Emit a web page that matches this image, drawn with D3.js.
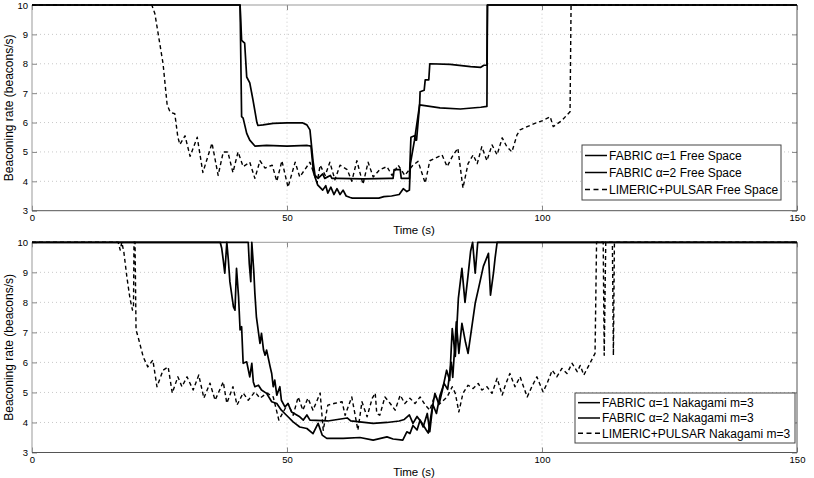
<!DOCTYPE html>
<html>
<head>
<meta charset="utf-8">
<script src="https://cdn.jsdelivr.net/npm/d3@7.9.0/dist/d3.min.js"></script>
<style>
  body { margin: 0; background: #fff; }
  text { font-family: "Liberation Sans", Arial, Helvetica, sans-serif; fill: #000; }
</style>
</head>
<body>
<svg id="chart" width="814" height="478"></svg>
<script>
// ---- data: [time (s), beaconing rate (beacons/s)] ----
const xTicks = [0, 50, 100, 150];
const yTicks = [3, 4, 5, 6, 7, 8, 9, 10];

const fabric1Free = [[0,10],[40.8,10],[41.1,8.8],[41.7,8.7],[42.1,7.55],[42.7,7.35],[43.3,6.8],[44.1,6.0],[44.3,5.9],
  [45.3,5.92],[47.3,5.97],[50,5.99],[53,5.99],[53.9,5.92],[54.5,5.75],[55.1,4.7],[55.5,4.2],[56.1,4.1],[57,4.25],[57.4,4.1],
  [58.5,4.2],[58.8,4.1],[60,4.1],[65,4.08],[70,4.1],[70.8,4.1],[71.0,4.4],[72.2,4.4],[72.4,4.1],[74.0,4.1],[74.3,5.5],
  [75.0,5.55],[75.2,5.4],[75.4,5.4],[76.0,6.6],[76.1,7.05],[76.9,7.1],[77.1,7.45],[77.8,7.45],[78.0,8.0],[82,7.98],
  [86,7.9],[88,7.88],[88.6,7.95],[89.2,7.95],[89.3,10],[150,10]];

const fabric2Free = [[0,10],[40.8,10],[41.1,6.2],[41.4,6.15],[42.1,5.63],[42.7,5.4],[43.7,5.2],[46,5.22],[50,5.2],[54,5.22],
  [54.7,5.2],[55.2,4.3],[56.0,3.88],[57.0,3.7],[57.6,3.85],[58.0,3.6],[58.6,3.8],[59.2,3.55],[59.8,3.75],[60.4,3.55],
  [61.0,3.7],[61.6,3.5],[62.4,3.45],[62.8,3.43],[68,3.43],[69,3.48],[70.5,3.5],[72,3.55],[72.8,3.75],[73.5,3.65],
  [74.0,3.7],[74.2,4.6],[75.0,5.4],[76.0,6.6],[80,6.5],[84,6.46],[88,6.52],[89.2,6.55],[89.3,10],[150,10]];

const limericFree = [[0,10],[23.5,10],[23.9,9.8],[24.1,9.7],[25.7,8.0],[26.5,6.6],[27.1,6.35],[28.0,6.3],[28.6,5.5],
  [29.0,5.25],[30.0,5.55],[31.0,4.85],[32.4,5.5],[33.5,4.3],[35.3,5.3],[36.5,4.2],[37.5,5.0],[38.4,5.0],[39.4,4.3],
  [40.4,5.0],[41.4,4.5],[42.7,4.65],[43.7,4.1],[44.7,4.7],[45.7,4.45],[47.1,4.55],[48.0,4.0],[49.0,4.7],[50.2,3.8],
  [51.6,4.65],[52.5,4.15],[54.5,4.65],[55.9,3.95],[56.5,4.55],[57.5,4.2],[58.4,4.65],[59.4,4.05],[60.4,4.55],[61.8,4.4],
  [62.7,4.0],[63.7,4.7],[64.9,3.9],[65.9,4.65],[66.9,4.15],[68.2,4.4],[69.6,4.5],[70.6,4.2],[71.8,4.55],[73.1,4.2],
  [74.7,4.55],[75.7,4.68],[77.1,3.94],[78.0,4.7],[79.0,4.78],[80.4,4.9],[81.4,4.5],[82.4,4.84],[83.5,5.13],[84.5,3.77],
  [85.5,4.6],[86.5,4.9],[87.3,4.6],[88.2,5.18],[89.2,4.7],[90.2,5.24],[91.2,4.9],[92.2,5.48],[93.1,5.18],[94.1,5.0],
  [95.1,5.58],[95.7,5.75],[97.1,5.86],[98.6,5.97],[100.2,6.07],[101.6,6.2],[102.2,5.86],[103.9,6.07],[105.5,6.37],
  [105.7,10],[150,10]];

const fabric1Naka = [[0,10],[42.4,10],[42.6,9.3],[42.9,8.69],[43.1,10],[43.5,9.0],[43.7,8.3],[44.0,7.52],[44.7,6.63],
  [45.0,6.97],[45.4,6.41],[45.7,6.24],[46.0,6.41],[46.7,5.85],[47.0,5.63],[47.3,5.19],[47.6,5.41],[48.0,4.91],[48.6,5.19],
  [48.9,4.74],[49.6,4.52],[50.2,4.63],[50.9,4.35],[52.5,4.19],[53.2,4.08],[53.9,4.25],[54.5,4.08],[58,4.05],[61.8,4.15],
  [62.5,4.05],[66.9,3.97],[69.6,4.0],[72.0,4.05],[73.0,4.1],[74.0,4.25],[74.7,3.97],[75.5,4.2],[76.5,3.97],[77.3,3.75],
  [77.7,3.65],[78.4,4.4],[79.0,4.97],[79.8,4.6],[80.5,5.1],[81.3,5.74],[81.9,5.4],[82.4,7.13],[83.0,6.2],[83.6,8.13],
  [84.3,9.13],[84.9,8.0],[85.5,8.9],[86.0,9.7],[86.4,10],[86.9,8.97],[87.4,10],[150,10]];

const fabric2Naka = [[0,10],[36.9,10],[37.2,9.8],[37.5,9.41],[37.8,8.97],[38.2,10],[38.5,9.41],[38.8,8.69],[39.5,7.85],
  [39.8,7.74],[40.1,9.13],[40.5,8.19],[40.8,7.08],[41.1,7.19],[41.4,5.97],[42.1,6.02],[42.7,5.52],[43.1,5.97],[43.4,5.35],
  [43.7,5.19],[44.4,5.24],[45.0,5.08],[46.0,4.97],[47.0,4.69],[48.0,4.63],[48.9,4.41],[49.9,4.24],[51.2,4.02],[52.5,3.85],
  [53.9,3.8],[55.1,3.63],[56.1,3.97],[56.9,3.58],[57.8,3.47],[61.0,3.47],[64.3,3.5],[66.9,3.41],[69.6,3.52],[70.8,3.45],
  [72.7,3.41],[73.5,3.69],[74.1,3.63],[74.7,3.9],[75.5,3.75],[76.1,4.08],[76.7,3.85],[77.5,4.3],[78.0,3.69],[78.6,4.6],
  [79.3,4.3],[80.0,4.9],[80.8,5.3],[81.5,5.1],[82.2,6.0],[82.5,5.5],[83.2,7.35],[83.7,6.3],[84.3,7.3],[85.0,6.67],
  [85.5,6.3],[86.9,7.97],[87.6,8.5],[88.5,9.2],[89.5,9.63],[89.9,8.24],[90.5,9.0],[90.8,9.47],[91.2,10],[150,10]];

const limericNaka = [[0,10],[16.9,10],[17.3,9.74],[17.6,10],[18.0,9.69],[18.6,8.85],[19.2,8.14],[19.7,7.74],[19.9,7.85],
  [20.0,10],[20.2,10],[20.4,7.08],[20.8,6.85],[21.8,6.19],[22.7,5.85],[23.7,6.08],[24.5,5.19],[25.7,5.74],[26.7,5.85],
  [27.5,4.98],[28.6,5.52],[29.4,5.19],[30.4,5.52],[31.6,5.08],[32.7,5.58],[33.7,4.81],[34.9,5.31],[35.9,4.74],[37.5,5.35],
  [38.2,4.64],[39.4,5.19],[40.2,4.58],[41.4,4.98],[42.4,4.74],[43.7,5.02],[44.7,4.81],[46.1,4.98],[47.3,4.85],[48.4,4.08],
  [50.2,4.64],[51.2,4.24],[52.2,4.85],[53.1,4.41],[54.1,4.81],[55.1,4.41],[56.5,4.98],[57.1,3.74],[58.0,4.58],[59.4,4.64],
  [60.8,4.69],[61.4,4.24],[62.7,4.85],[63.3,4.3],[63.9,3.74],[64.7,4.69],[65.7,4.19],[66.7,4.8],[67.3,4.98],[67.6,4.3],
  [68.2,4.24],[69.2,4.85],[70.2,4.64],[71.2,4.41],[72.2,4.91],[73.1,4.63],[74.1,4.81],[75.1,4.63],[76.1,4.85],[77.1,4.58],
  [78.0,4.41],[79.0,4.91],[80.0,4.63],[81.4,4.85],[82.4,5.19],[83.0,4.97],[83.7,4.35],[84.5,4.97],[85.5,5.24],[86.5,5.13],
  [87.5,5.3],[88.2,5.08],[89.2,5.19],[90.2,4.97],[91.2,5.47],[92.2,4.91],[92.7,5.19],[93.7,5.63],[94.7,5.19],[95.7,5.52],
  [97.1,4.85],[98.0,5.19],[99.0,5.52],[100.2,5.02],[101.0,5.3],[102.0,5.74],[102.9,5.52],[103.9,5.8],[104.9,5.63],
  [105.9,5.97],[106.9,5.69],[107.5,5.9],[108.2,5.58],[109.4,5.97],[110.4,6.3],[110.7,10],[112.0,10],[112.2,6.24],
  [112.5,10],[113.8,10],[114.0,6.24],[114.2,10],[150,10]];

const labelsFree = ['FABRIC \u03b1=1 Free Space', 'FABRIC \u03b1=2 Free Space', 'LIMERIC+PULSAR Free Space'];
const labelsNaka = ['FABRIC \u03b1=1 Nakagami m=3', 'FABRIC \u03b1=2 Nakagami m=3', 'LIMERIC+PULSAR Nakagami m=3'];

// ---- layout ----
const svg = d3.select('#chart');
const x = d3.scaleLinear().domain([0, 150]).range([32, 797]);
const fmt = d3.format('d');

const panels = [
  { top: 5, bottom: 210.7, series: [fabric1Free, fabric2Free, limericFree], labels: labelsFree,
    legend: { x: 582, y: 145, w: 199, h: 55 } },
  { top: 242.3, bottom: 452.5, series: [fabric1Naka, fabric2Naka, limericNaka], labels: labelsNaka,
    legend: { x: 575, y: 393, w: 220, h: 50 } }
];
const dashes = [null, null, '4,3'];

panels.forEach(p => drawPanel(p));

function drawPanel(p) {
  const y = d3.scaleLinear().domain([3, 10]).range([p.bottom, p.top]);
  const g = svg.append('g');

  // dotted grid
  g.append('g').selectAll('line').data(yTicks.filter(d => d > 3 && d < 10)).join('line')
    .attr('x1', x(0)).attr('x2', x(150)).attr('y1', d => y(d)).attr('y2', d => y(d))
    .attr('stroke', '#bbb').attr('stroke-width', 0.8).attr('stroke-dasharray', '1,3');
  g.append('g').selectAll('line').data(xTicks.filter(d => d > 0 && d < 150)).join('line')
    .attr('x1', d => x(d)).attr('x2', d => x(d)).attr('y1', y(3)).attr('y2', y(10))
    .attr('stroke', '#bbb').attr('stroke-width', 0.8).attr('stroke-dasharray', '1,3');

  // axes, ticks pointing inward
  g.append('g').attr('transform', `translate(0,${p.bottom})`)
    .call(d3.axisBottom(x).tickValues(xTicks).tickFormat(fmt).tickSize(-5).tickPadding(4));
  g.append('g').attr('transform', `translate(${x(0)},0)`)
    .call(d3.axisLeft(y).tickValues(yTicks).tickFormat(fmt).tickSize(-5).tickPadding(4));
  g.append('g').attr('transform', `translate(0,${p.top})`)
    .call(d3.axisTop(x).tickValues(xTicks).tickSize(-5).tickFormat(''));
  g.append('g').attr('transform', `translate(${x(150)},0)`)
    .call(d3.axisRight(y).tickValues(yTicks).tickSize(-5).tickFormat(''));
  g.selectAll('.domain').remove();
  g.selectAll('.tick line').attr('stroke', '#888');
  g.selectAll('.tick text').style('font-size', '9.5px').attr('fill', '#000');

  // frame
  g.append('line').attr('x1', x(0)).attr('x2', x(150)).attr('y1', p.top).attr('y2', p.top).attr('stroke', '#999');
  g.append('line').attr('x1', x(0)).attr('x2', x(0)).attr('y1', p.top).attr('y2', p.bottom).attr('stroke', '#999');
  g.append('line').attr('x1', x(0)).attr('x2', x(150)).attr('y1', p.bottom).attr('y2', p.bottom).attr('stroke', '#555');
  g.append('line').attr('x1', x(150)).attr('x2', x(150)).attr('y1', p.top).attr('y2', p.bottom).attr('stroke', '#555');

  // axis titles
  g.append('text').attr('x', 414).attr('y', p.bottom + 23).attr('text-anchor', 'middle')
    .style('font-size', '11.5px').text('Time (s)');
  g.append('text').attr('transform', `translate(13,${(p.top + p.bottom) / 2}) rotate(-90)`)
    .attr('text-anchor', 'middle').style('font-size', '12px').text('Beaconing rate (beacons/s)');

  // series (dashed first, solid on top)
  const line = d3.line().x(d => x(d[0])).y(d => y(d[1]));
  [2, 0, 1].forEach(i => {
    g.append('path').attr('d', line(p.series[i]))
      .attr('fill', 'none').attr('stroke', '#000')
      .attr('stroke-width', i === 2 ? 1.4 : 1.7)
      .attr('stroke-linejoin', 'round')
      .attr('stroke-dasharray', dashes[i]);
  });

  // legend
  const L = p.legend;
  const lg = g.append('g');
  lg.append('rect').attr('x', L.x).attr('y', L.y).attr('width', L.w).attr('height', L.h)
    .attr('fill', '#fff').attr('stroke', '#444').attr('stroke-width', 1);
  const rowH = (L.h - 4) / 3;
  p.labels.forEach((t, i) => {
    const cy = L.y + 2 + rowH * (i + 0.5);
    lg.append('line').attr('x1', L.x + 3).attr('x2', L.x + 25).attr('y1', cy).attr('y2', cy)
      .attr('stroke', '#000').attr('stroke-width', 1.5).attr('stroke-dasharray', dashes[i] ? '5,3.5' : null);
    lg.append('text').attr('x', L.x + 27).attr('y', cy).attr('dy', '0.36em')
      .style('font-size', '12px').text(t);
  });
}
</script>
</body>
</html>
